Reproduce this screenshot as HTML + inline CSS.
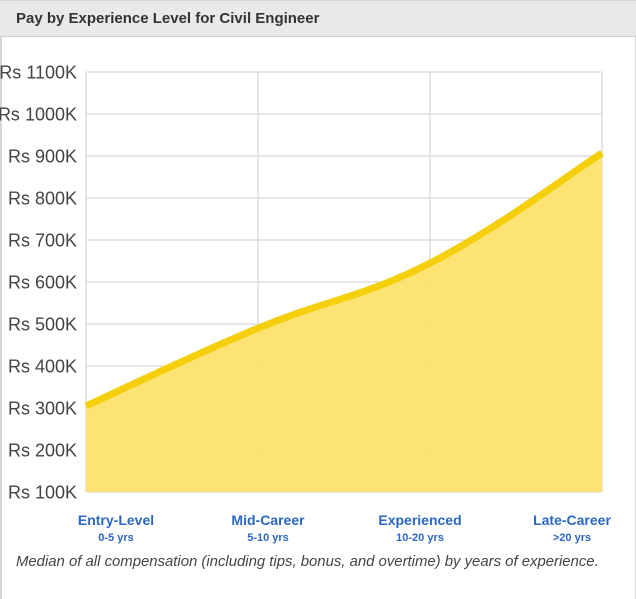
<!DOCTYPE html>
<html><head><meta charset="utf-8"><style>
body{margin:0;width:636px;height:599px;overflow:hidden;background:#fff;font-family:"Liberation Sans",sans-serif}
#frame{position:absolute;left:0;top:0;height:599px;border-left:2px solid #d6d6d6;border-right:1px solid #d6d6d6;box-sizing:border-box;width:636px}
#hdr{position:absolute;left:0;top:0;width:636px;height:37px;background:#e9e9e9;border-bottom:1px solid #d0d0d0;border-top:1px solid #d6d6d6;box-sizing:border-box}
#hdr span{position:absolute;left:16px;top:9px;font-size:15px;font-weight:bold;color:#333}
svg{position:absolute;left:0;top:0}
#cap{position:absolute;left:16px;top:554px;font-size:14.9px;font-style:italic;color:#444;white-space:nowrap}
</style></head><body>
<div id="frame"></div>
<div id="hdr"><span>Pay by Experience Level for Civil Engineer</span></div>
<svg id="chart" width="636" height="599"></svg>
<div id="cap">Median of all compensation (including tips, bonus, and overtime) by years of experience.</div>
<script>
const categories=["Entry-Level","Mid-Career","Experienced","Late-Career"];
const subLabels=["0-5 yrs","5-10 yrs","10-20 yrs",">20 yrs"];
const values=[305,490,645,907];
const yTicks=[100,200,300,400,500,600,700,800,900,1000,1100];
const yTickLabels=["Rs 100K","Rs 200K","Rs 300K","Rs 400K","Rs 500K","Rs 600K","Rs 700K","Rs 800K","Rs 900K","Rs 1000K","Rs 1100K"];
const svg=document.getElementById('chart');const NS="http://www.w3.org/2000/svg";
const X0=86,X1=602,Y0=492,Y1=72;
const x=i=>X0+(X1-X0)*i/(categories.length-1);
const y=v=>Y0-(v-100)/(1100-100)*(Y0-Y1);
function mk(t,a){const e=document.createElementNS(NS,t);for(const k in a)e.setAttribute(k,a[k]);svg.appendChild(e);return e;}
yTicks.forEach((v,i)=>{
 const l=mk('line',{x1:X0,x2:X1,y1:y(v),y2:y(v),stroke:'#dddddd','stroke-width':1.5});
 
 
 const t=mk('text',{x:77,y:y(v)+6.5,'text-anchor':'end','font-size':18,fill:'#444'});
 t.textContent=yTickLabels[i];
 
 
});
categories.forEach((c,i)=>{
 const l=mk('line',{x1:x(i),x2:x(i),y1:Y1,y2:Y0,stroke:'#dddddd','stroke-width':1.5});
 
 
});
const pts=values.map((v,i)=>[x(i),y(v)]);
let d=`M${pts[0][0]},${pts[0][1]}`;
for(let i=0;i<pts.length-1;i++){
 const p0=pts[Math.max(0,i-1)],p1=pts[i],p2=pts[i+1],p3=pts[Math.min(pts.length-1,i+2)];
 const t=0.2;
 d+=` C${p1[0]+(p2[0]-p0[0])*t},${p1[1]+(p2[1]-p0[1])*t} ${p2[0]-(p3[0]-p1[0])*t},${p2[1]-(p3[1]-p1[1])*t} ${p2[0]},${p2[1]}`;
}
const area=mk('path',{d:d+` L${X1},${Y0} L${X0},${Y0} Z`,fill:'#fce26c','fill-opacity':0.95});


const line=mk('path',{d:d,fill:'none',stroke:'#f6cf0c','stroke-width':7});


categories.forEach((c,i)=>{
 const cx=116+152*i;
 const t=mk('text',{x:cx,y:525,'text-anchor':'middle','font-size':14,'font-weight':'bold',fill:'#2b67c2'});
 t.textContent=c;
 
 
 const s=mk('text',{x:cx,y:541,'text-anchor':'middle','font-size':11,'font-weight':'bold',fill:'#2b67c2'});
 s.textContent=subLabels[i];
 
 
});
</script>
</body></html>
